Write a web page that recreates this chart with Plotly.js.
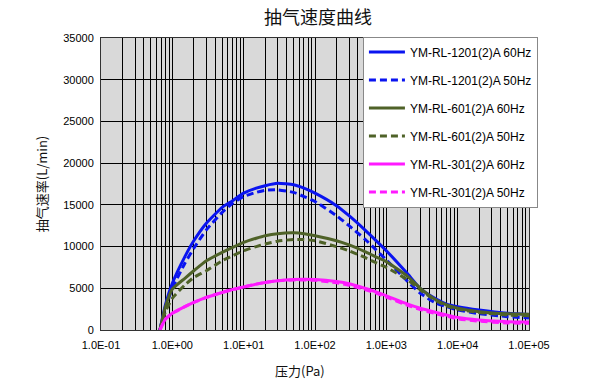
<!DOCTYPE html>
<html>
<head>
<meta charset="utf-8">
<script src="https://cdn.plot.ly/plotly-3.0.1.min.js"></script>
<style>html,body{margin:0;padding:0;background:#fff}#chart{width:600px;height:387px}</style>
</head>
<body>
<div id="chart"></div>
<script>
// Pressure (Pa)
const pressure = [0.67, 0.8, 1, 1.5, 2, 3, 5, 7, 10, 15, 20, 30, 50, 70, 100, 200, 300, 500, 700, 1000, 2000, 3000, 5000, 7000, 10000, 20000, 50000, 100000];
// Pumping speed (L/min)
const rl1201_60 = [0, 3000, 5600, 8800, 10700, 12800, 14700, 15500, 16400, 17000, 17300, 17580, 17400, 17000, 16400, 14900, 13700, 12000, 10800, 9500, 6700, 4950, 3700, 3100, 2800, 2400, 2000, 1850];
const rl1201_50 = [0, 2600, 5000, 8000, 9800, 12000, 14100, 15200, 16000, 16500, 16750, 16800, 16500, 16000, 15400, 13700, 12500, 10900, 9700, 8400, 5800, 4400, 3200, 2800, 2400, 1950, 1600, 1450];
const rl601_60 = [0, 2800, 4900, 6200, 7100, 8300, 9300, 9900, 10500, 11000, 11300, 11550, 11650, 11550, 11300, 10700, 10200, 9400, 8800, 8200, 6400, 5000, 3600, 3000, 2600, 2200, 1950, 1900];
const rl601_50 = [0, 2200, 3800, 5400, 6300, 7100, 8300, 8900, 9500, 10000, 10300, 10650, 10850, 10850, 10700, 10000, 9500, 8700, 8100, 7500, 6000, 4800, 3500, 2900, 2500, 2100, 1800, 1700];
const rl301_60 = [0, 1300, 2000, 2800, 3300, 3900, 4500, 4850, 5150, 5500, 5700, 5900, 6050, 6080, 6050, 5800, 5550, 5000, 4600, 4100, 3100, 2600, 2100, 1800, 1500, 1200, 1000, 950];
const rl301_50 = [0, 1300, 2000, 2800, 3300, 3900, 4500, 4850, 5150, 5500, 5700, 5900, 6000, 6000, 5950, 5650, 5350, 4850, 4450, 3950, 2950, 2450, 1950, 1650, 1350, 1050, 850, 800];

const seriesNames = ['YM-RL-1201(2)A 60Hz', 'YM-RL-1201(2)A 50Hz', 'YM-RL-601(2)A 60Hz', 'YM-RL-601(2)A 50Hz', 'YM-RL-301(2)A 60Hz', 'YM-RL-301(2)A 50Hz'];
const seriesValues = [rl1201_60, rl1201_50, rl601_60, rl601_50, rl301_60, rl301_50];
const seriesColors = ['#0a14f0', '#0a14f0', '#4f6228', '#4f6228', '#ff1aff', '#ff1aff'];
const seriesDash = ['solid', '7px,4px', 'solid', '7px,4px', 'solid', '7px,4px'];

const decadeTicks = [0.1, 1, 10, 100, 1000, 10000, 100000];
const decadeLabels = ['1.0E-01', '1.0E+00', '1.0E+01', '1.0E+02', '1.0E+03', '1.0E+04', '1.0E+05'];

// gridline positions: every 1..9 multiple of each decade
const gridVals = [], gridText = [];
for (let d = 0; d < decadeTicks.length; d++) {
  for (let m = 1; m <= 9; m++) {
    if (d === decadeTicks.length - 1 && m > 1) break;
    gridVals.push(decadeTicks[d] * m);
    gridText.push(m === 1 ? decadeLabels[d] : '');
  }
}

const traces = seriesNames.map((n, i) => ({
  x: pressure, y: seriesValues[i], name: n, type: 'scatter', mode: 'lines',
  line: {color: seriesColors[i], width: 3, dash: seriesDash[i], shape: 'spline', smoothing: 0.5},
  legendgroup: 'g' + i
}));

const font = 'Liberation Sans, Arial, sans-serif';
const cjk = 'Noto Sans CJK SC, sans-serif';

const layout = {
  width: 600, height: 387,
  margin: {l: 101, r: 71, t: 38, b: 57},
  paper_bgcolor: '#ffffff',
  plot_bgcolor: '#d9d9d9',
  showlegend: true,
  title: {text: '抽气速度曲线', font: {family: cjk, size: 18, color: '#111'}, x: 0.53, xref: 'container', xanchor: 'center', y: 0.955, yref: 'container', yanchor: 'middle'},
  xaxis: {
    type: 'log', range: [-1, 5], tickmode: 'array', tickvals: gridVals, ticktext: gridText,
    showgrid: true, gridcolor: '#000', gridwidth: 1, ticks: '',
    showline: true, linecolor: '#333', linewidth: 1, mirror: true, zeroline: false,
    tickfont: {family: font, size: 11, color: '#000'}, ticklabelstandoff: 5
  },
  yaxis: {
    range: [0, 35000], dtick: 5000, tick0: 0, tickformat: 'd', showgrid: true, gridcolor: '#000', gridwidth: 1,
    showline: true, linecolor: '#333', linewidth: 1, mirror: true, zeroline: false, ticks: '',
    tickfont: {family: font, size: 11, color: '#000'}, ticklabelstandoff: 4,
    title: {text: '抽气速率(L/min)', font: {family: cjk, size: 13, color: '#111'}, standoff: 12}
  },
  legend: {
    x: 0.612, y: 1.005, xanchor: 'left', yanchor: 'top',
    bgcolor: '#ffffff', bordercolor: '#888', borderwidth: 1,
    font: {family: font, size: 12, color: '#000'},
    traceorder: 'grouped', tracegroupgap: 9, itemwidth: 36
  },
  annotations: [{
    text: '压力(Pa)', xref: 'paper', yref: 'paper', x: 0.465, y: -0.1, xanchor: 'center', yanchor: 'top',
    showarrow: false, font: {family: cjk, size: 13, color: '#111'}
  }]
};

Plotly.newPlot('chart', traces, layout, {displayModeBar: false, staticPlot: true});
</script>
</body>
</html>
